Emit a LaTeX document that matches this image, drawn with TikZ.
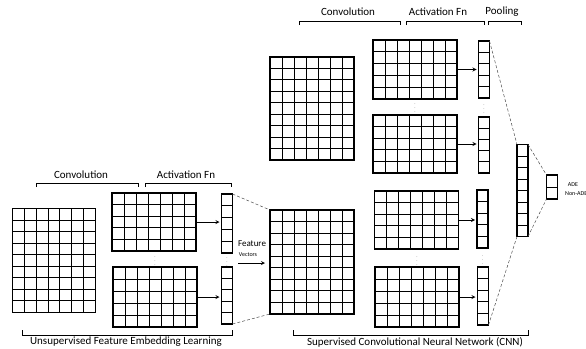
\documentclass[tikz,border=0pt]{standalone}
\usepackage{fontspec}
\setmainfont{Carlito}
\usetikzlibrary{calc}

\begin{document}
\begin{tikzpicture}[
    x=1pt, y=-1pt,
    cells/.style 2 args={draw, line width=1.2pt, inner sep=0pt, outer sep=0pt,
        path picture={
            \foreach \i in {1,...,#1}
                \draw[line width=1pt] ($(path picture bounding box.north west)!\i/#1!(path picture bounding box.north east)$) -- ($(path picture bounding box.south west)!\i/#1!(path picture bounding box.south east)$);
            \foreach \j in {1,...,#2}
                \draw[line width=1pt] ($(path picture bounding box.north west)!\j/#2!(path picture bounding box.south west)$) -- ($(path picture bounding box.north east)!\j/#2!(path picture bounding box.south east)$);
        }},
    img/.style={cells={7}{9}, minimum width=83pt, minimum height=104pt},
    fmap/.style={cells={7}{5}, minimum width=84pt, minimum height=58pt},
    vec/.style={cells={1}{5}, minimum width=11pt, minimum height=57pt},
    lab/.style={font=\fontsize{11}{13}\selectfont, inner sep=0pt},
    small/.style={inner sep=0pt, font=\fontsize{#1}{#1}\selectfont},
    vd/.style={font=\tiny, text=black!60, inner sep=0pt},
    brk/.style={line width=0.8pt},
    arr/.style={-stealth, line width=0.8pt, shorten >=2pt},
    dashln/.style={densely dashed, line width=0.5pt, black!70}
]
\useasboundingbox (0,0) rectangle (586,348);

% unsupervised part
\node[img] (in1) at (54,260.5) {};
\node[fmap] (c1) at (154,222) {};
\node[fmap, minimum height=60pt] (c2) at (155,297) {};
\node[vec, minimum height=59pt] (v1) at (227,223.5) {};
\node[vec] (v2) at (227,295.5) {};
\node[vd] (d1) at (155,258) {$\vdots$};
\node[vd] (d2) at (227,259) {$\vdots$};

\draw[arr] (c1.east) -- (c1.east -| v1.west);
\draw[arr] (c2.east) -- (c2.east -| v2.west);

\node[small=9] (ft) at (252,244) {Feature};
\node[small=6] (vc) at (248,255) {Vectors};
\coordinate (fa) at (238,263);
\coordinate (fb) at (265,263);
\draw[arr, shorten >=0pt] (fa) -- (fb);

% CNN part
\node[img, minimum width=84pt] (in2) at (312,262) {};
\node[img, minimum width=84pt, minimum height=103pt] (in3) at (312,108.5) {};
\node[fmap, minimum height=59pt] (g1) at (415,69.5) {};
\node[fmap] (g2) at (415,144) {};
\node[fmap] (g3) at (416.5,220) {};
\node[fmap, minimum height=60pt] (g4) at (417,297) {};
\node[vec] (p1) at (484,69.5) {};
\node[vec, minimum height=56pt] (p2) at (484,145) {};
\node[vec, minimum height=58pt] (p3) at (482.5,219) {};
\node[vec, minimum height=58pt] (p4) at (483,296) {};
\node[vd] (d3) at (415,105) {$\vdots$};
\node[vd] (d4) at (484,106) {$\vdots$};
\node[vd] (d5) at (417,258) {$\vdots$};
\node[vd] (d6) at (482.5,257) {$\vdots$};
\node[cells={1}{8}, minimum width=11pt, minimum height=92pt] (q) at (522.5,190.5) {};
\node[cells={1}{2}, minimum width=11pt, minimum height=24pt] (o) at (552,187) {};
\node[small=6] (ade) at (573,185) {ADE};
\node[small=6, anchor=west] (nade) at (565,194) {Non-ADE};

\draw[arr] (g1.east) -- (g1.east -| p1.west);
\draw[arr] (g2.east) -- (g2.east -| p2.west);
\draw[arr] (g3.east) -- (g3.east -| p3.west);
\draw[arr] (g4.east) -- (g4.east -| p4.west);

\draw[dashln] (v1.north east) -- (in2.north west);
\draw[dashln] (v2.south east) -- (in2.south west);
\draw[dashln] (p1.north east) -- (q.north west);
\draw[dashln] (p4.south east) -- (q.south west);
\draw[dashln] (q.north east) -- (o.north west);
\draw[dashln] (q.south east) -- (o.south west);

% brackets and labels
\draw[brk] (36,187) -- (36,183) -- (138,183) -- (138,187);
\draw[brk] (145,187) -- (145,183) -- (231,183) -- (231,187);
\draw[brk] (22,330) -- (22,335) -- (232,335) -- (232,330);
\draw[brk] (299,25) -- (299,21) -- (400,21) -- (400,25);
\draw[brk] (406,25) -- (406,21) -- (484,21) -- (484,25);
\draw[brk] (488,25) -- (488,21) -- (521,21) -- (521,25);
\draw[brk] (293,330) -- (293,335) -- (528,335) -- (528,330);

\node[lab] (l1) at (81,175) {Convolution};
\node[lab] (l2) at (186,175) {Activation Fn};
\node[lab] (l3) at (126,342) {Unsupervised Feature Embedding Learning};
\node[lab] (l4) at (348,12) {Convolution};
\node[lab] (l5) at (438,12) {Activation Fn};
\node[lab] (l6) at (502,12) {Pooling};
\node[lab] (l7) at (415,342) {Supervised Convolutional Neural Network (CNN)};
\end{tikzpicture}
\end{document}
